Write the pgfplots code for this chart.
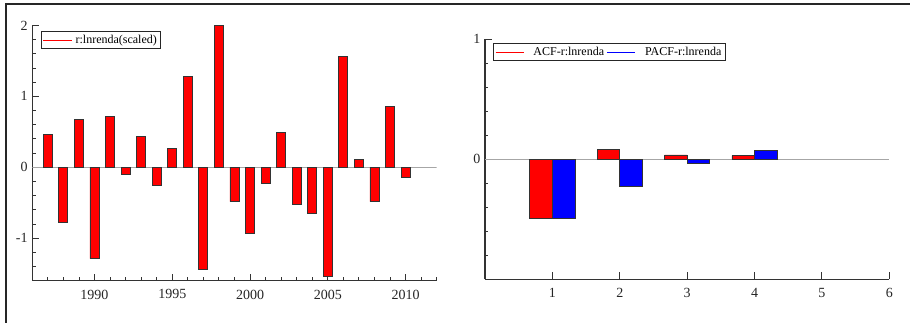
\documentclass[border=0pt]{standalone}
\usepackage{fontspec}
\setmainfont{Liberation Serif}
\usepackage{pgfplots}
\pgfplotsset{compat=1.18}

\pgfplotstableread{
year val
1987 0.458
1988 -0.778
1989 0.670
1990 -1.288
1991 0.717
1992 -0.094
1993 0.429
1994 -0.259
1995 0.259
1996 1.274
1997 -1.443
1998 2.000
1999 -0.486
2000 -0.929
2001 -0.226
2002 0.486
2003 -0.519
2004 -0.656
2005 -1.538
2006 1.557
2007 0.108
2008 -0.486
2009 0.854
2010 -0.137
}\seriesdata

\pgfplotstableread{
lag acf pacf
1 -0.494 -0.494
2 0.081 -0.226
3 0.036 -0.036
4 0.031 0.073
}\acfdata

\pgfplotsset{
  myax/.style={
    scale only axis,
    axis x line*=bottom, axis y line*=left,
    axis line style={black!80, line width=0.9pt},
    tick align=inside,
    major tick length=5.25pt, minor tick length=2.6pt,
    every tick/.style={black!80, line width=0.75pt},
    every minor tick/.style={black!80, line width=0.6pt},
    tick label style={font=\fontsize{10.5}{12}\selectfont, black!85},
    xticklabel style={yshift=-3.2pt},
    /pgf/number format/assume math mode=true,
    /pgf/number format/1000 sep={},
    legend style={font=\fontsize{9}{10}\selectfont, draw=black!85, line width=0.75pt,
      inner xsep=1pt, inner ysep=0.5pt, anchor=north west},
    legend cell align=left,
  }
}

\begin{document}
\begin{tikzpicture}
\useasboundingbox (0pt,0pt) rectangle (682.5pt,242.25pt);
\draw[black!85, line width=1.5pt] (4.5pt,0pt) -- (4.5pt,239.6pt) -- (682.5pt,239.6pt);

\begin{axis}[myax,
  at={(24.2pt,31.7pt)}, anchor=south west,
  width=303.3pt, height=191.5pt,
  xmin=1986, xmax=2012, ymin=-1.6, ymax=2,
  xtick={1990,1995,...,2010},
  minor xtick={1986,...,2012},
  ytick={-1,0,1,2},
  minor ytick={-1.6,-1.4,...,2.01},
  legend style={at={(0.021,0.978)}},
  legend image code/.code={\draw[#1, line width=0.75pt] (0pt,0pt) -- (22pt,0pt);},
]
\addplot[gray!70, line width=0.6pt, forget plot] coordinates {(1986,0) (2012,0)};
\addplot[ybar, bar width=0.58, fill=red, draw=black!80, line width=0.6pt, forget plot]
  table[x=year, y=val] {\seriesdata};
\addlegendimage{draw=red}
\addlegendentry{r:lnrenda(scaled)}
\end{axis}

\begin{axis}[myax,
  at={(363.75pt,32.8pt)}, anchor=south west,
  width=303.2pt, height=180pt,
  xmin=0, xmax=6, ymin=-1, ymax=1,
  xtick={1,...,6},
  ytick={0,1},
  minor ytick={-1,-0.8,...,0.81},
  legend columns=2,
  legend style={at={(0.0205,0.983)}, /tikz/every odd column/.append style={column sep=5pt}},
  legend image code/.code={\draw[#1, line width=0.75pt] (0pt,0pt) -- (21pt,0pt);},
]
\addplot[gray!70, line width=0.6pt, forget plot] coordinates {(0,0) (6,0)};
\addplot[ybar, bar width=0.335, bar shift=-0.1675, fill=red, draw=black!80, line width=0.6pt, forget plot]
  table[x=lag, y=acf] {\acfdata};
\addplot[ybar, bar width=0.335, bar shift=0.1675, fill=blue, draw=black!80, line width=0.6pt, forget plot]
  table[x=lag, y=pacf] {\acfdata};
\addlegendimage{draw=red}
\addlegendentry{ACF-r:lnrenda}
\addlegendimage{draw=blue}
\addlegendentry{PACF-r:lnrenda}
\end{axis}
\end{tikzpicture}
\end{document}
